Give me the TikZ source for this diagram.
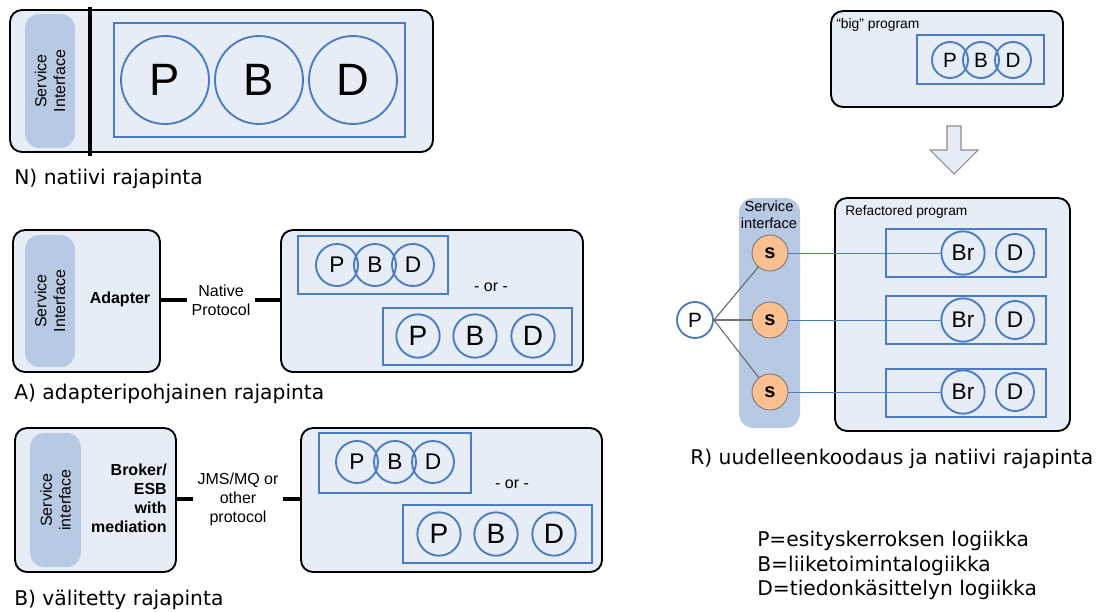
\documentclass[tikz,border=0pt]{standalone}
\usepackage{fontspec}
\setmainfont{Liberation Sans}
\newfontfamily\capfont{DejaVu Sans}
\usetikzlibrary{fit}
\definecolor{boxfill}{HTML}{E7EDF7}
\definecolor{pillfill}{HTML}{B7C9E3}
\definecolor{lineblue}{HTML}{4A7BC4}
\definecolor{sfill}{HTML}{FAC08F}
\definecolor{arrowgray}{HTML}{8C8C8C}
\begin{document}
\begin{tikzpicture}[x=0.75pt,y=-0.75pt,
  box/.style={draw=black, line width=1.4pt, fill=boxfill, rounded corners=9pt, inner sep=0pt},
  pill/.style={fill=pillfill, rounded corners=11pt, inner sep=0pt},
  layer/.style={draw=lineblue, line width=2.2pt, inner sep=0pt},
  tier/.style={circle, draw=lineblue, line width=1.4pt, inner sep=0pt},
  bigtier/.style={tier, minimum size=66pt, font=\fontsize{34}{34}\selectfont},
  midtier/.style={tier, minimum size=31.5pt, font=\fontsize{17}{17}\selectfont},
  lowtier/.style={tier, minimum size=32.5pt, font=\fontsize{21}{21}\selectfont},
  smalltier/.style={tier, minimum size=27pt, font=\fontsize{15.5}{15.5}\selectfont},
  svc/.style={circle, draw=arrowgray!80!black, line width=0.6pt, fill=sfill, minimum size=27pt, inner sep=0pt, font=\bfseries\fontsize{15}{15}\selectfont},
  caption/.style={anchor=west, inner sep=0pt, font=\capfont\fontsize{15.2}{15.2}\selectfont},
  vlabel/.style={rotate=90, align=center, inner sep=0pt, font=\fontsize{12}{14}\selectfont},
  plabel/.style={align=center, inner sep=0pt, font=\fontsize{12}{14.2}\selectfont},
  orlabel/.style={inner sep=0pt, font=\fontsize{12}{12}\selectfont},
  wire/.style={line width=2.4pt},
]
\useasboundingbox (0,0) rectangle (1103,611);

% ---------- N) native interface ----------
\node[box, fit={(10,10) (433,152)}] (nBox) {};
\node[pill, fit={(25,14) (75,148)}] (nPill) {};
\node[vlabel] at (nPill) {Service\\Interface};
\coordinate (nSepTop) at (90,7);
\coordinate (nSepBot) at (90,156);
\draw[line width=3pt] (nSepTop) -- (nSepBot);
\node[layer, fit={(114,23) (405,137)}] (nLayer) {};
\node[bigtier] (nP) at (165,80) {P};
\node[bigtier] (nB) at (259,80) {B};
\node[bigtier] (nD) at (353,80) {D};
\node[caption] (nCap) at (14,179) {N) natiivi rajapinta};

% ---------- A) adapter-based interface ----------
\node[box, fit={(13,230) (160,372)}] (aLeft) {};
\node[pill, fit={(25,235) (75,367)}] (aPill) {};
\node[vlabel] at (aPill) {Service\\Interface};
\node[inner sep=0pt, font=\bfseries\fontsize{12}{14}\selectfont] (aAdapter) at (120,299) {Adapter};
\node[box, fit={(281,230) (583,372)}] (aRight) {};
\node[plabel] (aProto) at (221,300) {Native\\Protocol};
\draw[wire] (aLeft.east |- aProto) -- ([xshift=-3pt]aProto.west);
\draw[wire] ([xshift=3pt]aProto.east) -- (aRight.west |- aProto);
\node[layer, fit={(298,236) (448,294)}] (aLayer1) {};
\node[midtier] (aP1) at (337,265) {P};
\node[midtier] (aB1) at (375,265) {B};
\node[midtier] (aD1) at (413,265) {D};
\node[orlabel] (aOr) at (491,287) {- or -};
\node[layer, fit={(383,308) (572,365)}] (aLayer2) {};
\node[lowtier] (aP2) at (418,336) {P};
\node[lowtier] (aB2) at (475,336) {B};
\node[lowtier] (aD2) at (533,336) {D};
\node[caption] (aCap) at (14,394) {A) adapteripohjainen rajapinta};

% ---------- B) mediated interface ----------
\node[box, fit={(15,428) (176,572)}] (bLeft) {};
\node[pill, fit={(30,433) (81,567)}] (bPill) {};
\node[vlabel] at (bPill) {Service\\interface};
\node[align=right, anchor=east, inner sep=0pt, font=\bfseries\fontsize{12}{14.3}\selectfont] (bBroker) at (167,498) {Broker/\\ESB\\with\\mediation};
\node[box, fit={(301,428) (602,572)}] (bRight) {};
\node[plabel] (bProto) at (238,499) {JMS/MQ or\\other\\protocol};
\draw[wire] (bLeft.east |- bProto) -- ([xshift=-3pt]bProto.west);
\draw[wire] ([xshift=3pt]bProto.east) -- (bRight.west |- bProto);
\node[layer, fit={(319,433) (471,493)}] (bLayer1) {};
\node[midtier] (bP1) at (357,462) {P};
\node[midtier] (bB1) at (395,462) {B};
\node[midtier] (bD1) at (433,462) {D};
\node[orlabel] (bOr) at (512,484) {- or -};
\node[layer, fit={(403,505) (592,563)}] (bLayer2) {};
\node[lowtier] (bP2) at (439,534) {P};
\node[lowtier] (bB2) at (496,534) {B};
\node[lowtier] (bD2) at (554,534) {D};
\node[caption] (bCap) at (14,600) {B) välitetty rajapinta};

% ---------- R) refactoring and native interface ----------
\node[box, fit={(831,11) (1063,107)}] (rBig) {};
\node[anchor=west, inner sep=0pt, font=\fontsize{10.4}{12}\selectfont] (rBigLbl) at (836,25) {“big” program};
\node[layer, fit={(917,35) (1044,84)}] (rBigLayer) {};
\node[smalltier] (rBigP) at (950,60) {P};
\node[smalltier] (rBigB) at (981,60) {B};
\node[smalltier] (rBigD) at (1013,60) {D};

% hollow refactoring arrow
\draw[draw=arrowgray, fill=boxfill, line width=0.8pt, line join=miter]
  (947,126) -- (961,126) -- (961,150) -- (978,150) -- (954,174) -- (930,150) -- (947,150) -- cycle;

\node[pill, fit={(739,198) (800,428)}] (rPill) {};
\node[align=center, inner sep=0pt, font=\fontsize{11}{12.5}\selectfont] (rPillLbl) at (769,215) {Service\\interface};
\node[box, fit={(835,198) (1070,431)}] (rRef) {};
\node[anchor=west, inner sep=0pt, font=\fontsize{10.3}{12}\selectfont] (rRefLbl) at (845,212) {Refactored program};

\node[layer, fit={(886,229) (1046,277)}] (rL1) {};
\node[layer, fit={(886,296) (1046,344)}] (rL2) {};
\node[layer, fit={(886,369) (1046,417)}] (rL3) {};
\foreach \i/\yy in {1/253, 2/320, 3/392} {
  \node[tier, minimum size=32.5pt, font=\fontsize{17}{17}\selectfont] (rBr\i) at (963,\yy) {Br};
  \node[tier, minimum size=28.5pt, font=\fontsize{17}{17}\selectfont] (rD\i) at (1015,\yy) {D};
  \node[svc] (rS\i) at (770,\yy) {s};
  \draw[lineblue, line width=0.7pt] (rS\i) -- (rBr\i);
}
\node[tier, fill=white, minimum size=27pt, font=\fontsize{15.5}{15.5}\selectfont] (rP) at (695,320) {P};
\draw[black!60, line width=0.8pt] (rP.east) -- (rS1);
\draw[black!55, line width=1.5pt] (rP.east) -- (rS2);
\draw[black!60, line width=0.8pt] (rP.east) -- (rS3);

\node[caption] (rCap) at (690,459) {R) uudelleenkoodaus ja natiivi rajapinta};
\node[anchor=north west, align=left, inner sep=0pt, font=\capfont\fontsize{15.2}{18.4}\selectfont] (legend) at (757,531)
  {P=esityskerroksen logiikka\\B=liiketoimintalogiikka\\D=tiedonkäsittelyn logiikka};
\end{tikzpicture}
\end{document}
